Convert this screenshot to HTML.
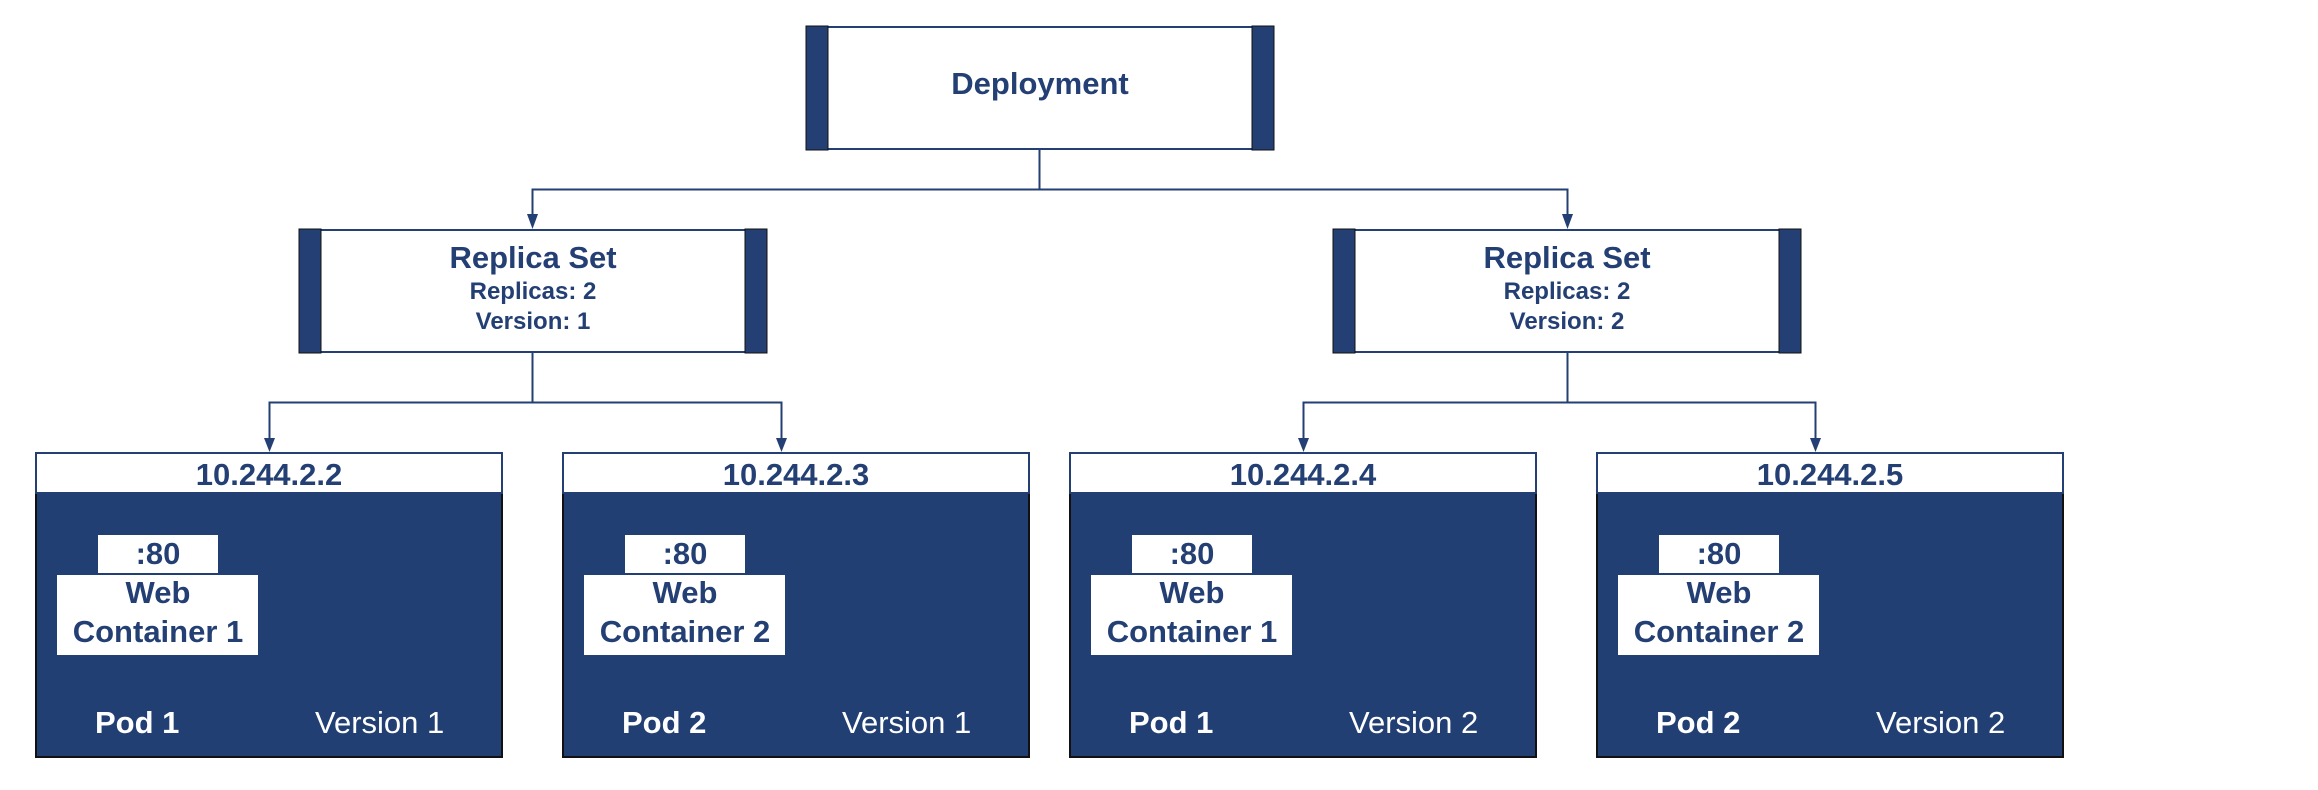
<!DOCTYPE html>
<html><head><meta charset="utf-8"><style>
html,body{margin:0;padding:0;background:#fff;}
svg{display:block;}
text{font-family:"Liberation Sans",sans-serif;}
</style></head><body>
<svg width="2318" height="790" viewBox="0 0 2318 790" xmlns="http://www.w3.org/2000/svg">
<g fill="none" stroke="#233f73" stroke-width="2">
<path d="M1039.5 149V189.5H532.5V216"/>
<path d="M1039.5 189.5H1567.5V216"/>
<path d="M532.5 352V402.5H269.5V440"/>
<path d="M532.5 402.5H781.5V440"/>
<path d="M1567.5 352V402.5H1303.5V440"/>
<path d="M1567.5 402.5H1815.5V440"/>
</g>
<g fill="#233f73">
<polygon points="527,214 538,214 532.5,229"/>
<polygon points="1562,214 1573,214 1567.5,229"/>
<polygon points="264,438 275,438 269.5,452"/>
<polygon points="776,438 787,438 781.5,452"/>
<polygon points="1298,438 1309,438 1303.5,452"/>
<polygon points="1810,438 1821,438 1815.5,452"/>
</g>

<rect x="807" y="27" width="466" height="122" fill="#fff" stroke="#233f73" stroke-width="2"/>
<rect x="806" y="26" width="22" height="124" fill="#233f73" stroke="#111" stroke-width="1"/>
<rect x="1252" y="26" width="22" height="124" fill="#233f73" stroke="#111" stroke-width="1"/>
<text x="1040" y="94" text-anchor="middle" font-size="31" font-weight="bold" fill="#233f73">Deployment</text>

<g>
<rect x="300" y="230" width="466" height="122" fill="#fff" stroke="#233f73" stroke-width="2"/>
<rect x="299" y="229" width="22" height="124" fill="#233f73" stroke="#111" stroke-width="1"/>
<rect x="745" y="229" width="22" height="124" fill="#233f73" stroke="#111" stroke-width="1"/>
<text x="533" y="268" text-anchor="middle" font-size="31" font-weight="bold" fill="#233f73">Replica Set</text>
<text x="533" y="299" text-anchor="middle" font-size="24" font-weight="bold" fill="#233f73">Replicas: 2</text>
<text x="533" y="329" text-anchor="middle" font-size="24" font-weight="bold" fill="#233f73">Version: 1</text>
</g>
<g>
<rect x="1334" y="230" width="466" height="122" fill="#fff" stroke="#233f73" stroke-width="2"/>
<rect x="1333" y="229" width="22" height="124" fill="#233f73" stroke="#111" stroke-width="1"/>
<rect x="1779" y="229" width="22" height="124" fill="#233f73" stroke="#111" stroke-width="1"/>
<text x="1567" y="268" text-anchor="middle" font-size="31" font-weight="bold" fill="#233f73">Replica Set</text>
<text x="1567" y="299" text-anchor="middle" font-size="24" font-weight="bold" fill="#233f73">Replicas: 2</text>
<text x="1567" y="329" text-anchor="middle" font-size="24" font-weight="bold" fill="#233f73">Version: 2</text>
</g>

<g>
<rect x="36" y="453" width="466" height="304" fill="#223f73" stroke="#111" stroke-width="2"/>
<rect x="36" y="453" width="466" height="40" fill="#fff" stroke="#233f73" stroke-width="2"/>
<text x="269" y="485" text-anchor="middle" font-size="31" font-weight="bold" fill="#233f73">10.244.2.2</text>
<rect x="98" y="535" width="120" height="38" fill="#fff"/>
<text x="158" y="564" text-anchor="middle" font-size="31" font-weight="bold" fill="#233f73">:80</text>
<rect x="57" y="575" width="201" height="80" fill="#fff"/>
<text x="158" y="603" text-anchor="middle" font-size="31" font-weight="bold" fill="#233f73">Web</text>
<text x="158" y="642" text-anchor="middle" font-size="31" font-weight="bold" fill="#233f73">Container 1</text>
<text x="95" y="733" font-size="31" font-weight="bold" fill="#fff">Pod 1</text>
<text x="315" y="733" font-size="31" fill="#fff">Version 1</text>
</g>
<g transform="translate(527,0)">
<rect x="36" y="453" width="466" height="304" fill="#223f73" stroke="#111" stroke-width="2"/>
<rect x="36" y="453" width="466" height="40" fill="#fff" stroke="#233f73" stroke-width="2"/>
<text x="269" y="485" text-anchor="middle" font-size="31" font-weight="bold" fill="#233f73">10.244.2.3</text>
<rect x="98" y="535" width="120" height="38" fill="#fff"/>
<text x="158" y="564" text-anchor="middle" font-size="31" font-weight="bold" fill="#233f73">:80</text>
<rect x="57" y="575" width="201" height="80" fill="#fff"/>
<text x="158" y="603" text-anchor="middle" font-size="31" font-weight="bold" fill="#233f73">Web</text>
<text x="158" y="642" text-anchor="middle" font-size="31" font-weight="bold" fill="#233f73">Container 2</text>
<text x="95" y="733" font-size="31" font-weight="bold" fill="#fff">Pod 2</text>
<text x="315" y="733" font-size="31" fill="#fff">Version 1</text>
</g>
<g transform="translate(1034,0)">
<rect x="36" y="453" width="466" height="304" fill="#223f73" stroke="#111" stroke-width="2"/>
<rect x="36" y="453" width="466" height="40" fill="#fff" stroke="#233f73" stroke-width="2"/>
<text x="269" y="485" text-anchor="middle" font-size="31" font-weight="bold" fill="#233f73">10.244.2.4</text>
<rect x="98" y="535" width="120" height="38" fill="#fff"/>
<text x="158" y="564" text-anchor="middle" font-size="31" font-weight="bold" fill="#233f73">:80</text>
<rect x="57" y="575" width="201" height="80" fill="#fff"/>
<text x="158" y="603" text-anchor="middle" font-size="31" font-weight="bold" fill="#233f73">Web</text>
<text x="158" y="642" text-anchor="middle" font-size="31" font-weight="bold" fill="#233f73">Container 1</text>
<text x="95" y="733" font-size="31" font-weight="bold" fill="#fff">Pod 1</text>
<text x="315" y="733" font-size="31" fill="#fff">Version 2</text>
</g>
<g transform="translate(1561,0)">
<rect x="36" y="453" width="466" height="304" fill="#223f73" stroke="#111" stroke-width="2"/>
<rect x="36" y="453" width="466" height="40" fill="#fff" stroke="#233f73" stroke-width="2"/>
<text x="269" y="485" text-anchor="middle" font-size="31" font-weight="bold" fill="#233f73">10.244.2.5</text>
<rect x="98" y="535" width="120" height="38" fill="#fff"/>
<text x="158" y="564" text-anchor="middle" font-size="31" font-weight="bold" fill="#233f73">:80</text>
<rect x="57" y="575" width="201" height="80" fill="#fff"/>
<text x="158" y="603" text-anchor="middle" font-size="31" font-weight="bold" fill="#233f73">Web</text>
<text x="158" y="642" text-anchor="middle" font-size="31" font-weight="bold" fill="#233f73">Container 2</text>
<text x="95" y="733" font-size="31" font-weight="bold" fill="#fff">Pod 2</text>
<text x="315" y="733" font-size="31" fill="#fff">Version 2</text>
</g>
</svg>
</body></html>
